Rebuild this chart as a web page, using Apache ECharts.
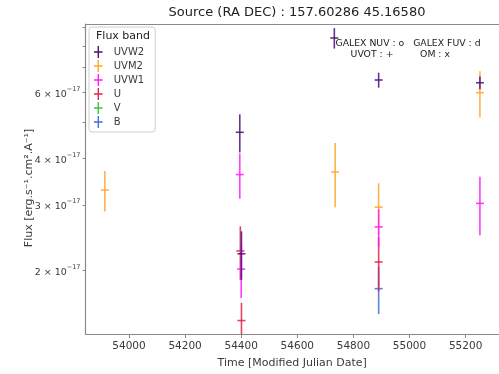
<!DOCTYPE html>
<html>
<head>
<meta charset="utf-8">
<script src="https://cdn.jsdelivr.net/npm/echarts@6/dist/echarts.min.js"></script>
<style>
  html, body { margin: 0; padding: 0; background: #fff; }
  #chart { width: 499px; height: 374px; }
</style>
</head>
<body>
<div id="chart"></div>
<script>
// Flux values are in units of 1e-17 erg/s/cm^2/A; errors are 1-sigma half-widths.
const bandNames = ['UVW2', 'UVM2', 'UVW1', 'U', 'V', 'B'];
const bandColors = ['#4b0f7a', '#ffa726', '#ff1aff', '#e0224a', '#3cc43c', '#3a6ee0'];

const uvw2Mjd  = [54395, 54401, 54732, 54890, 55251];
const uvw2Flux = [4.70, 2.22, 8.41, 6.49, 6.38];
const uvw2Err  = [0.55, 0.33, 0.53, 0.30, 0.25];

const uvm2Mjd  = [53914, 54735, 54890, 55251];
const uvm2Flux = [3.29, 3.68, 2.96, 6.00];
const uvm2Err  = [0.41, 0.72, 0.47, 0.85];

const uvw1Mjd  = [54395, 54400, 54890, 55251];
const uvw1Flux = [3.62, 2.02, 2.62, 3.03];
const uvw1Err  = [0.50, 0.33, 0.30, 0.54];

const uMjd  = [54397, 54401, 54890];
const uFlux = [2.26, 1.47, 2.11];
const uErr  = [0.37, 0.17, 0.35];

const vMjd  = [];
const vFlux = [];
const vErr  = [];

const bMjd  = [54890];
const bFlux = [1.79];
const bErr  = [0.26];

const xTicks = [54000, 54200, 54400, 54600, 54800, 55000, 55200];
const yLabelTicks = [2, 3, 4, 6];
const yMinorTicks = [2, 3, 4, 5, 6, 7, 8, 9];

const bandData = [
  [uvw2Mjd, uvw2Flux, uvw2Err],
  [uvm2Mjd, uvm2Flux, uvm2Err],
  [uvw1Mjd, uvw1Flux, uvw1Err],
  [uMjd, uFlux, uErr],
  [vMjd, vFlux, vErr],
  [bMjd, bFlux, bErr]
];

function zipBand(b) {
  const [m, f, e] = b;
  return m.map((x, i) => [x, f[i], e[i]]);
}

// Vertical error bar with a "+" marker at the measured flux.
function errorBarRenderer(color) {
  return function (params, api) {
    const x = api.value(0), v = api.value(1), e = api.value(2);
    const top = api.coord([x, v + e]);
    const bot = api.coord([x, v - e]);
    const mid = api.coord([x, v]);
    const style = { stroke: color, lineWidth: 1.6, opacity: 0.85 };
    return {
      type: 'group',
      children: [
        { type: 'line', shape: { x1: top[0], y1: top[1], x2: bot[0], y2: bot[1] }, style: style },
        { type: 'line', shape: { x1: mid[0] - 4, y1: mid[1], x2: mid[0] + 4, y2: mid[1] }, style: style }
      ]
    };
  };
}

const supers = { '-': '⁻', '0': '⁰', '1': '¹', '2': '²', '3': '³', '4': '⁴', '5': '⁵', '6': '⁶', '7': '⁷', '8': '⁸', '9': '⁹' };
function sup(s) { return s.split('').map(c => supers[c] || c).join(''); }

const drawOrder = [5, 4, 3, 1, 2, 0];
const series = drawOrder.map(i => ({
  name: bandNames[i],
  type: 'custom',
  clip: true,
  renderItem: errorBarRenderer(bandColors[i]),
  itemStyle: { color: bandColors[i] },
  encode: { x: 0, y: 1 },
  data: zipBand(bandData[i]),
  z: i === 0 ? 10 : 2
}));

const chart = echarts.init(document.getElementById('chart'), null, { renderer: 'canvas' });
const axisGrey = '#8a8a8a';
const textGrey = '#3a3a3a';
const font = 'DejaVu Sans';

const xAxisBase = {
  type: 'value',
  min: 53845,
  max: 55319,
  splitLine: { show: false },
  axisLine: { show: true, onZero: false, lineStyle: { color: axisGrey, width: 1.2 } }
};

chart.setOption({
  backgroundColor: '#ffffff',
  animation: false,
  title: {
    text: 'Source (RA DEC) : 157.60286 45.16580',
    left: 292,
    top: 1,
    textAlign: 'center',
    textStyle: { fontFamily: font, fontSize: 13, fontWeight: 'normal', color: '#222' }
  },
  grid: { left: 85.5, right: -3, top: 24, bottom: 40, show: false },
  legend: {
    data: bandNames,
    orient: 'vertical',
    left: 89,
    top: 27,
    padding: [19, 11, 4, 5],
    itemGap: 2,
    itemWidth: 21,
    itemHeight: 12,
    icon: 'path://M4.2,0h1.6v14h-1.6z M0,6.2h10v1.6h-10z',
    backgroundColor: 'rgba(255,255,255,0.85)',
    borderColor: '#d0d0d0',
    borderWidth: 1,
    borderRadius: 3,
    textStyle: { fontFamily: font, fontSize: 10, color: textGrey },
    selectedMode: false
  },
  xAxis: [
    Object.assign({}, xAxisBase, {
      position: 'bottom',
      name: 'Time [Modified Julian Date]',
      nameLocation: 'middle',
      nameGap: 24,
      nameTextStyle: { fontFamily: font, fontSize: 11, color: textGrey },
      axisTick: { show: true, customValues: xTicks, length: 4, lineStyle: { color: axisGrey } },
      axisLabel: {
        customValues: xTicks, fontFamily: font, fontSize: 10.5, color: textGrey, margin: 7,
        formatter: v => String(Math.round(v))
      }
    }),
    Object.assign({}, xAxisBase, {
      position: 'top',
      axisTick: { show: false },
      axisLabel: { show: false }
    })
  ],
  yAxis: {
    type: 'log',
    min: 1.353,
    max: 9.17,
    splitLine: { show: false },
    axisLine: { show: true, onZero: false, lineStyle: { color: axisGrey, width: 1.2 } },
    axisTick: { show: true, customValues: yMinorTicks, length: 3, lineStyle: { color: axisGrey } },
    axisLabel: {
      customValues: yLabelTicks,
      margin: 5,
      formatter: v => '{m|' + Math.round(v) + ' × 10}{s|−17}',
      rich: {
        m: { fontFamily: font, fontSize: 9.5, color: textGrey, verticalAlign: 'bottom', lineHeight: 14 },
        s: { fontFamily: font, fontSize: 6.5, color: textGrey, verticalAlign: 'top', lineHeight: 14 }
      }
    }
  },
  graphic: [
    { type: 'text', left: 96, top: 31, style: { text: 'Flux band', fontFamily: font, fontSize: 11, fill: '#222' }, z: 100 },
    { type: 'text', x: 29, y: 188, rotation: Math.PI / 2,
      style: { text: 'Flux [erg.s' + sup('-1') + '.cm' + sup('2') + '.A' + sup('-1') + ']', fontFamily: font, fontSize: 11, fill: textGrey, align: 'center', verticalAlign: 'middle' } },
    { type: 'text', x: 408, y: 44, style: { text: 'GALEX NUV : o   GALEX FUV : d', fontFamily: font, fontSize: 9.3, fill: '#222', align: 'center', verticalAlign: 'middle' }, z: 100 },
    { type: 'text', x: 372, y: 55, style: { text: 'UVOT : +', fontFamily: font, fontSize: 9.3, fill: '#222', align: 'center', verticalAlign: 'middle' }, z: 100 },
    { type: 'text', x: 435, y: 55, style: { text: 'OM : x', fontFamily: font, fontSize: 9.3, fill: '#222', align: 'center', verticalAlign: 'middle' }, z: 100 }
  ],
  series: series
});
</script>
</body>
</html>
